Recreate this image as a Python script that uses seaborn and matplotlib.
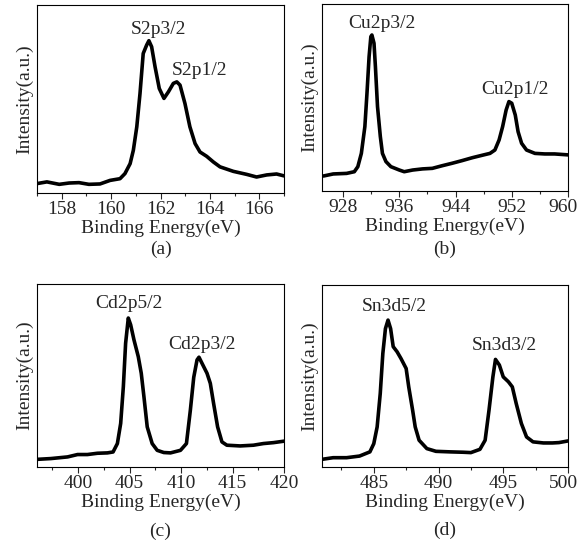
## XPS spectra of S 2p, Cu 2p, Cd 2p and Sn 3d regions
import pandas as pd
import matplotlib
matplotlib.use("Agg")
import matplotlib.pyplot as plt
from matplotlib.ticker import MultipleLocator
from matplotlib.transforms import ScaledTranslation
import seaborn as sns

## Values (intensity in arbitrary units, 0..1)
s_energy = [157.0, 157.4, 157.9, 158.3, 158.7, 159.1, 159.55, 159.96, 160.36, 160.56, 160.77, 160.9,
            161.04, 161.17, 161.3, 161.44, 161.53, 161.64, 161.78, 161.95, 162.14, 162.32, 162.52,
            162.66, 162.79, 162.99, 163.19, 163.4, 163.6, 163.87, 164.14, 164.41, 164.95, 165.49,
            165.89, 166.3, 166.7, 167.0]
s_int = [0.050, 0.059, 0.046, 0.053, 0.055, 0.046, 0.048, 0.067, 0.076, 0.103, 0.156, 0.227,
         0.352, 0.529, 0.742, 0.787, 0.810, 0.778, 0.671, 0.556, 0.503, 0.538, 0.583,
         0.591, 0.574, 0.476, 0.352, 0.263, 0.218, 0.195, 0.165, 0.139, 0.115, 0.099,
         0.085, 0.096, 0.101, 0.091]

cu_energy = [925.2, 926.6, 928.5, 929.6, 930.1, 930.6, 931.1, 931.4, 931.7, 931.95, 932.1, 932.4,
             932.6, 932.9, 933.3, 933.6, 934.1, 934.8, 936.0, 936.7, 937.9, 939.3, 940.7, 942.1,
             943.5, 944.9, 946.4, 947.8, 948.9, 949.6, 950.2, 950.7, 951.2, 951.6, 952.0, 952.5,
             952.9, 953.4, 954.1, 955.3, 956.7, 958.1, 960.0]
cu_int = [0.080, 0.091, 0.094, 0.103, 0.130, 0.201, 0.344, 0.522, 0.718, 0.825, 0.834, 0.790,
          0.665, 0.451, 0.291, 0.201, 0.157, 0.130, 0.112, 0.103, 0.112, 0.118, 0.121, 0.135,
          0.148, 0.162, 0.178, 0.191, 0.201, 0.219, 0.273, 0.344, 0.433, 0.478, 0.469, 0.406,
          0.317, 0.255, 0.219, 0.201, 0.198, 0.198, 0.193]

cd_energy = [396.1, 397.35, 398.97, 399.94, 400.9, 401.87, 402.84, 403.39, 403.81, 404.13, 404.39,
             404.61, 404.87, 405.1, 405.42, 405.84, 406.13, 406.39, 406.71, 407.19, 407.68, 408.32,
             408.97, 409.94, 410.52, 410.9, 411.23, 411.55, 411.74, 412.03, 412.52, 412.84, 413.16,
             413.55, 413.97, 414.45, 415.74, 417.03, 418.0, 418.97, 420.0]
cd_int = [0.042, 0.046, 0.055, 0.068, 0.068, 0.075, 0.077, 0.082, 0.128, 0.238, 0.439,
          0.676, 0.814, 0.777, 0.695, 0.603, 0.512, 0.384, 0.219, 0.128, 0.091, 0.079,
          0.077, 0.091, 0.128, 0.310, 0.490, 0.585, 0.600, 0.567, 0.512, 0.457, 0.347,
          0.219, 0.137, 0.119, 0.115, 0.119, 0.128, 0.133, 0.141]

sn_energy = [481.0, 481.86, 482.9, 483.9, 484.7, 485.0, 485.26, 485.5, 485.7, 485.9, 486.1, 486.3,
             486.5, 486.8, 487.1, 487.5, 487.7, 488.0, 488.2, 488.5, 489.1, 489.8, 490.9, 491.9,
             492.5, 493.2, 493.6, 493.9, 494.2, 494.4, 494.7, 495.0, 495.4, 495.7, 496.0, 496.4,
             496.8, 497.3, 498.1, 498.8, 499.3, 500.0]
sn_int = [0.042, 0.051, 0.051, 0.060, 0.083, 0.128, 0.220, 0.404, 0.624, 0.760, 0.807, 0.760,
          0.661, 0.633, 0.596, 0.541, 0.440, 0.312, 0.220, 0.147, 0.101, 0.086, 0.083, 0.081,
          0.079, 0.097, 0.147, 0.312, 0.495, 0.591, 0.560, 0.495, 0.468, 0.440, 0.349, 0.239,
          0.165, 0.138, 0.132, 0.132, 0.134, 0.143]

# tick values for each panel
s_ticks = [158, 160, 162, 164, 166]
cu_ticks = [928, 936, 944, 952, 960]
cd_ticks = [400, 405, 410, 415, 420]
sn_ticks = [485, 490, 495, 500]

# peak labels: (text, energy, intensity)
s_peaks = [("S2p3/2", 161.9, 0.867), ("S2p1/2", 163.6, 0.654)]
cu_peaks = [("Cu2p3/2", 933.55, 0.897), ("Cu2p1/2", 952.5, 0.54)]
cd_peaks = [("Cd2p5/2", 404.9, 0.896), ("Cd2p3/2", 412.0, 0.667)]
sn_peaks = [("Sn3d5/2", 486.6, 0.881), ("Sn3d3/2", 495.05, 0.67)]

FS = 14

sns.set_style("ticks")
plt.rcParams["font.family"] = ["Liberation Serif", "DejaVu Serif"]
plt.rcParams["font.size"] = FS

fig = plt.figure(figsize=(5.81, 5.43), dpi=100)

# Helper to draw one spectrum panel
def plot_panel(rect, energy, intensity, peaks, xlim, ticks, minor, letter, letter_y,
               nudge_last=False):
    ax = fig.add_axes(rect)
    df = pd.DataFrame({"energy": energy, "intensity": intensity})
    sns.lineplot(data=df, x="energy", y="intensity", sort=False, estimator=None,
                 color="black", linewidth=2.6, ax=ax)
    ax.lines[0].set_solid_joinstyle("round")
    ax.lines[0].set_solid_capstyle("round")
    for txt, xe, yi in peaks:
        ax.text(xe, yi, txt, ha="center", va="center", fontsize=FS)
    ax.set_xlim(xlim)
    ax.set_ylim(0, 1)
    ax.set_xticks(ticks)
    ax.xaxis.set_minor_locator(MultipleLocator(minor))
    ax.set_yticks([])
    ax.tick_params(axis="x", which="major", direction="out", length=4, width=0.8,
                   labelsize=FS, pad=1.5)
    ax.tick_params(axis="x", which="minor", direction="out", length=2.5, width=0.8)
    for sp in ax.spines.values():
        sp.set_linewidth(0.8)
        sp.set_color("black")
    ax.set_xlabel("Binding Energy(eV)", fontsize=FS, labelpad=1.5)
    ax.set_ylabel("Intensity(a.u.)", fontsize=FS, labelpad=3)
    ax.text(0.5, letter_y, letter, transform=ax.transAxes, ha="center", va="center",
            fontsize=FS)
    if nudge_last:
        # last label sits a bit left of its tick so it stays inside the figure
        lab = ax.xaxis.get_major_ticks()[-1].label1
        lab.set_transform(lab.get_transform() + ScaledTranslation(-5 / 100, 0, fig.dpi_scale_trans))
    return ax

plot_panel([0.0637, 0.6446, 0.4251, 0.3462], s_energy, s_int, s_peaks,
           (157, 167), s_ticks, 1, "(a)", -0.30)
plot_panel([0.5542, 0.6483, 0.4234, 0.3444], cu_energy, cu_int, cu_peaks,
           (925, 960), cu_ticks, 4, "(b)", -0.31, nudge_last=True)
plot_panel([0.0637, 0.1400, 0.4251, 0.3370], cd_energy, cd_int, cd_peaks,
           (396, 420), cd_ticks, 2.5, "(c)", -0.35)
plot_panel([0.5542, 0.1400, 0.4234, 0.3352], sn_energy, sn_int, sn_peaks,
           (481, 500), sn_ticks, 2.5, "(d)", -0.35, nudge_last=True)

plt.savefig("out.png", dpi=100)
